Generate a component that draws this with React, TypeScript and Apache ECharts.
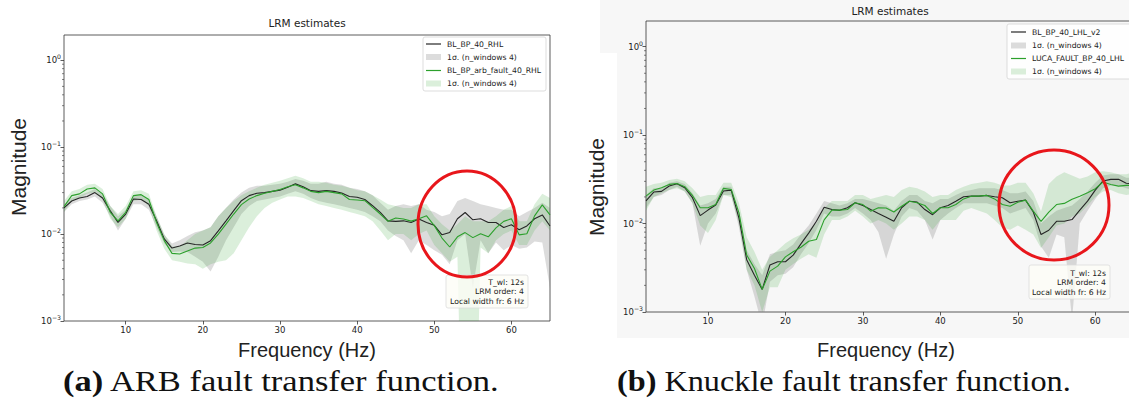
import React, { useEffect, useRef } from 'react';
import * as echarts from 'echarts';

// ---------------- data ----------------
const FREQ = [2,3,4,5,6,7,8,9,10,11,12,13,14,15,16,17,18,19,20,21,22,23,24,25,26,27,28,29,30,31,32,33,34,35,36,37,38,39,40,41,42,43,44,45,46,47,48,49,50,51,52,53,54,55,56,57,58,59,60,61,62,63,64,65];
const X_TICKS = [10, 20, 30, 40, 50, 60];
const Y_MINOR = [0.002,0.003,0.004,0.005,0.006,0.007,0.008,0.009,0.02,0.03,0.04,0.05,0.06,0.07,0.08,0.09,0.2,0.3,0.4,0.5,0.6,0.7,0.8,0.9];

// (a) ARB fault
const A_BASE = [0.020,0.024,0.026,0.027,0.030,0.026,0.0185,0.0136,0.017,0.0253,0.025,0.022,0.0142,0.0088,0.0069,0.0073,0.0079,0.0076,0.0075,0.0084,0.0109,0.0142,0.0186,0.0242,0.0277,0.0295,0.030,0.031,0.032,0.0345,0.0378,0.035,0.0316,0.031,0.0316,0.031,0.0297,0.027,0.0265,0.025,0.0212,0.0178,0.0142,0.0140,0.0142,0.0136,0.0149,0.0136,0.0126,0.0098,0.0104,0.015,0.0177,0.0146,0.015,0.0136,0.0136,0.0119,0.0128,0.0112,0.0124,0.015,0.0166,0.0124];
const A_BASE_LO = [0.018,0.022,0.024,0.025,0.027,0.023,0.016,0.011,0.015,0.022,0.022,0.019,0.012,0.0078,0.0062,0.0063,0.0062,0.0055,0.0048,0.0037,0.0055,0.0085,0.012,0.017,0.021,0.024,0.025,0.026,0.027,0.029,0.031,0.029,0.026,0.024,0.023,0.022,0.021,0.020,0.019,0.018,0.016,0.014,0.011,0.0095,0.0085,0.006,0.0085,0.0075,0.0065,0.0058,0.0045,0.0085,0.010,0.0024,0.0085,0.006,0.0080,0.0065,0.0075,0.0068,0.0070,0.0082,0.0080,0.0024];
const A_BASE_HI = [0.022,0.026,0.028,0.030,0.033,0.029,0.021,0.016,0.019,0.028,0.028,0.025,0.016,0.0098,0.0078,0.0085,0.0095,0.0105,0.011,0.012,0.016,0.020,0.025,0.030,0.034,0.036,0.036,0.037,0.038,0.040,0.043,0.041,0.038,0.038,0.040,0.038,0.037,0.034,0.033,0.031,0.028,0.023,0.019,0.021,0.022,0.021,0.022,0.019,0.018,0.016,0.017,0.024,0.026,0.024,0.022,0.021,0.020,0.019,0.019,0.016,0.018,0.020,0.023,0.020];
const A_FAULT = [0.0207,0.0277,0.029,0.033,0.034,0.029,0.0178,0.0142,0.0178,0.0277,0.0284,0.025,0.0136,0.0084,0.0060,0.0059,0.0064,0.0069,0.0070,0.0079,0.010,0.013,0.017,0.0218,0.0253,0.0277,0.0295,0.031,0.0325,0.035,0.037,0.034,0.031,0.030,0.031,0.030,0.029,0.025,0.0247,0.0242,0.0203,0.017,0.014,0.0153,0.0149,0.0141,0.015,0.0162,0.0125,0.009,0.0071,0.0093,0.0104,0.0091,0.0101,0.0093,0.0118,0.014,0.015,0.0098,0.0101,0.0162,0.0217,0.0166];
const A_FAULT_LO = [0.018,0.024,0.026,0.029,0.030,0.025,0.015,0.012,0.015,0.024,0.025,0.021,0.011,0.0068,0.0050,0.0048,0.0046,0.0045,0.0040,0.0045,0.0048,0.0050,0.0060,0.0085,0.012,0.016,0.020,0.023,0.025,0.027,0.027,0.026,0.024,0.022,0.021,0.020,0.019,0.018,0.017,0.016,0.014,0.011,0.0085,0.010,0.010,0.0085,0.010,0.011,0.0075,0.0060,0.0048,0.0055,0.000001,0.000001,0.0070,0.0060,0.0085,0.010,0.011,0.0075,0.0075,0.011,0.014,0.011];
const A_FAULT_HI = [0.024,0.031,0.033,0.037,0.038,0.033,0.021,0.017,0.021,0.031,0.032,0.029,0.016,0.0100,0.0072,0.0072,0.0085,0.010,0.011,0.012,0.016,0.020,0.024,0.028,0.031,0.034,0.037,0.039,0.041,0.044,0.047,0.044,0.040,0.040,0.039,0.037,0.036,0.034,0.032,0.031,0.028,0.025,0.022,0.021,0.020,0.020,0.022,0.022,0.016,0.013,0.011,0.013,0.016,0.014,0.014,0.014,0.016,0.019,0.021,0.014,0.014,0.022,0.029,0.026];

// (b) Knuckle fault
const B_BASE = [0.018,0.0227,0.0231,0.0266,0.0282,0.0254,0.0196,0.0123,0.0142,0.0162,0.0233,0.0239,0.0115,0.0039,0.0026,0.0018,0.0034,0.0037,0.0037,0.0044,0.0059,0.0078,0.0106,0.0153,0.0144,0.0141,0.0151,0.0172,0.016,0.0144,0.013,0.0118,0.0106,0.0151,0.0179,0.0175,0.0144,0.0126,0.0151,0.016,0.0179,0.0201,0.0204,0.0204,0.0208,0.0201,0.0196,0.0172,0.0179,0.0184,0.0135,0.0075,0.0084,0.0106,0.0106,0.0111,0.0142,0.0179,0.0239,0.0303,0.0316,0.0316,0.0285,0.028];
const B_BASE_LO = [0.015,0.020,0.021,0.024,0.026,0.023,0.017,0.0056,0.010,0.013,0.021,0.021,0.0090,0.0030,0.0015,0.0007,0.0022,0.0026,0.0027,0.0032,0.0045,0.0060,0.0085,0.013,0.012,0.012,0.013,0.015,0.013,0.011,0.008,0.0040,0.0075,0.012,0.015,0.014,0.011,0.0066,0.011,0.013,0.015,0.017,0.017,0.017,0.017,0.016,0.015,0.013,0.014,0.015,0.011,0.0055,0.0041,0.0075,0.0070,0.0008,0.010,0.014,0.019,0.025,0.027,0.027,0.025,0.024];
const B_BASE_HI = [0.021,0.025,0.025,0.029,0.030,0.028,0.022,0.016,0.017,0.019,0.026,0.026,0.014,0.0050,0.0035,0.0026,0.0045,0.0048,0.0050,0.0058,0.0075,0.0095,0.013,0.018,0.017,0.016,0.017,0.019,0.019,0.018,0.017,0.016,0.014,0.018,0.021,0.021,0.018,0.017,0.019,0.019,0.021,0.023,0.024,0.025,0.025,0.025,0.024,0.022,0.022,0.023,0.018,0.010,0.012,0.014,0.015,0.016,0.019,0.023,0.029,0.035,0.036,0.036,0.033,0.033];
const B_FAULT = [0.0204,0.0239,0.0254,0.0277,0.0284,0.0261,0.0208,0.0151,0.0151,0.0164,0.025,0.0243,0.0132,0.0044,0.0031,0.0018,0.0029,0.0033,0.0042,0.0048,0.0054,0.0063,0.0066,0.011,0.0142,0.0142,0.0144,0.0172,0.0164,0.0138,0.0151,0.015,0.0135,0.0157,0.0179,0.0172,0.016,0.013,0.0151,0.0151,0.0164,0.019,0.0204,0.0204,0.0208,0.019,0.0164,0.0157,0.0174,0.0184,0.0138,0.0106,0.0135,0.0164,0.0169,0.0188,0.0204,0.0223,0.0248,0.0295,0.0277,0.0265,0.027,0.027];
const B_FAULT_LO = [0.014,0.020,0.022,0.024,0.025,0.023,0.017,0.0095,0.0078,0.011,0.021,0.020,0.010,0.0030,0.0020,0.0010,0.0019,0.0019,0.0030,0.0035,0.0040,0.0045,0.0041,0.0075,0.011,0.011,0.012,0.014,0.012,0.010,0.011,0.010,0.0085,0.010,0.012,0.012,0.011,0.0085,0.011,0.011,0.011,0.014,0.015,0.014,0.013,0.011,0.0090,0.0085,0.0095,0.0085,0.0075,0.0053,0.0070,0.0095,0.010,0.012,0.013,0.016,0.020,0.023,0.024,0.022,0.021,0.022];
const B_FAULT_HI = [0.026,0.028,0.029,0.031,0.032,0.030,0.025,0.020,0.021,0.021,0.029,0.029,0.017,0.0070,0.0048,0.0030,0.0042,0.0050,0.0060,0.0068,0.0075,0.0085,0.010,0.015,0.018,0.018,0.018,0.021,0.021,0.019,0.020,0.021,0.020,0.024,0.026,0.025,0.023,0.020,0.021,0.021,0.024,0.026,0.028,0.029,0.030,0.029,0.027,0.027,0.029,0.029,0.022,0.0138,0.028,0.034,0.038,0.035,0.032,0.034,0.038,0.039,0.038,0.036,0.036,0.038];

// ---------------- styling ----------------
const SANS = '"DejaVu Sans", sans-serif';
const BIG = '"Liberation Sans", Arial, sans-serif';
const SERIF = '"Liberation Serif", serif';
const BLACK = '#262626';
const GREEN = '#2ca02c';
const GRAY_FILL = 'rgba(128,128,128,0.28)';
const GREEN_FILL = 'rgba(44,160,44,0.17)';
const X_MIN = 2;

const pairs = (ys: number[]) => FREQ.map((f, i) => [f, ys[i]]);
const logLabel = (v: number) => {
  const e = Math.log10(v);
  const r = Math.round(e);
  if (Math.abs(e - r) > 1e-6) return '';
  return '10{s|' + (r < 0 ? '\u2212' + (-r) : String(r)) + '}';
};

function lineSeries(name: string, ys: number[], color: string, gi: number) {
  return {
    type: 'line', name, xAxisIndex: gi, yAxisIndex: gi, data: pairs(ys),
    showSymbol: false, symbol: 'none', clip: true, silent: true,
    lineStyle: { color, width: 1.1 }, itemStyle: { color },
  };
}
function bandSeries(name: string, lo: number[], hi: number[], fill: string, gi: number) {
  return {
    type: 'custom', name, xAxisIndex: gi, yAxisIndex: gi, clip: true, silent: true,
    data: [[FREQ[0], hi[0]]],
    renderItem: (_p: any, api: any) => {
      const pts: number[][] = [];
      for (let i = 0; i < FREQ.length; i++) pts.push(api.coord([FREQ[i], hi[i]]));
      for (let i = FREQ.length - 1; i >= 0; i--) pts.push(api.coord([FREQ[i], lo[i]]));
      return { type: 'polygon', shape: { points: pts }, style: { fill, stroke: 'none' } };
    },
  };
}
function minorTicks(gi: number) {
  return {
    type: 'custom', xAxisIndex: gi, yAxisIndex: gi, clip: false, silent: true,
    data: [[X_MIN, 0.01]],
    renderItem: (_p: any, api: any) => ({
      type: 'group',
      children: Y_MINOR.map((v) => {
        const c = api.coord([X_MIN, v]);
        return { type: 'line', shape: { x1: c[0] - 2, y1: c[1], x2: c[0], y2: c[1] }, style: { stroke: '#333', lineWidth: 0.6 } };
      }),
    }),
  };
}
function xAxis(gi: number) {
  return {
    gridIndex: gi, type: 'value', min: 2, max: 65,
    axisLine: { show: false }, splitLine: { show: false },
    axisTick: { customValues: X_TICKS, length: 3.5, lineStyle: { color: '#333', width: 0.8 } },
    axisLabel: { customValues: X_TICKS, fontSize: 8.5, color: '#222', margin: 4, fontFamily: SANS },
  };
}
function yAxis(gi: number) {
  return {
    gridIndex: gi, type: 'log', logBase: 10, min: 0.001, max: 1.95,
    axisLine: { show: false }, splitLine: { show: false },
    axisTick: { length: 3.5, lineStyle: { color: '#333', width: 0.8 } },
    axisLabel: {
      formatter: logLabel, fontSize: 8.5, color: '#222', margin: 3, fontFamily: SANS, showMaxLabel: false,
      rich: { s: { fontSize: 6.2, fontFamily: SANS, color: '#222', padding: [0, 0, 7, 0] } },
    },
  };
}
const txt = (text: string, x: number, y: number, size: number, family: string, align = 'left', extra: any = {}) => ({
  type: 'text', x, y, z: 100, ...extra,
  style: { text, fontSize: size, fontFamily: family, fill: '#222', align, textAlign: align, verticalAlign: 'middle', textVerticalAlign: 'middle', ...(extra.style || {}) },
});
function legend(x: number, y: number, w: number, h: number, rows: number[], labels: string[], lx: number, tx: number) {
  const els: any[] = [
    { type: 'rect', z: 99, shape: { x, y, width: w, height: h, r: 2 }, style: { fill: 'rgba(255,255,255,0.85)', stroke: '#d4d4d4', lineWidth: 0.8 } },
    { type: 'line', z: 100, shape: { x1: lx, y1: rows[0], x2: lx + 15, y2: rows[0] }, style: { stroke: BLACK, lineWidth: 1.2 } },
    { type: 'rect', z: 100, shape: { x: lx, y: rows[1] - 3, width: 15, height: 6 }, style: { fill: GRAY_FILL } },
    { type: 'line', z: 100, shape: { x1: lx, y1: rows[2], x2: lx + 15, y2: rows[2] }, style: { stroke: GREEN, lineWidth: 1.2 } },
    { type: 'rect', z: 100, shape: { x: lx, y: rows[3] - 3, width: 15, height: 6 }, style: { fill: GREEN_FILL } },
  ];
  labels.forEach((l, i) => els.push(txt(l, tx, rows[i], 7.7, SANS)));
  return els;
}
function infoBox(x: number, y: number, w: number, h: number, rows: number[]) {
  const lines = ['T_wl: 12s', 'LRM order: 4', 'Local width fr: 6 Hz'];
  return [
    { type: 'rect', z: 99, shape: { x, y, width: w, height: h, r: 2 }, style: { fill: 'rgba(252,252,246,0.8)', stroke: '#dcdcdc', lineWidth: 0.8 } },
    ...lines.map((l, i) => txt(l, x + w - 4, rows[i], 7.7, SANS, 'right')),
  ];
}
const caption = (label: string, rest: string, x: number, scaleX: number) => ({
  type: 'text', x, y: 381, z: 100, scaleX,
  style: {
    text: '{b|' + label + '}' + rest, fontSize: 30, fontFamily: SERIF, fill: '#111',
    align: 'left', verticalAlign: 'middle', textVerticalAlign: 'middle',
    rich: { b: { fontSize: 30, fontFamily: SERIF, fontWeight: 'bold', fill: '#111' } },
  },
});

const option: any = {
  animation: false,
  grid: [
    { left: 64, top: 35, width: 486, height: 286, show: true, borderColor: '#333', borderWidth: 0.8, backgroundColor: 'transparent' },
    { left: 646, top: 21, width: 488, height: 291, show: true, borderColor: '#333', borderWidth: 0.8, backgroundColor: 'transparent' },
  ],
  xAxis: [xAxis(0), xAxis(1)],
  yAxis: [yAxis(0), yAxis(1)],
  series: [
    lineSeries('BL_BP_40_RHL', A_BASE, BLACK, 0),
    bandSeries('1σ base (a)', A_BASE_LO, A_BASE_HI, GRAY_FILL, 0),
    lineSeries('BL_BP_arb_fault_40_RHL', A_FAULT, GREEN, 0),
    bandSeries('1σ fault (a)', A_FAULT_LO, A_FAULT_HI, GREEN_FILL, 0),
    minorTicks(0),
    lineSeries('BL_BP_40_LHL_v2', B_BASE, BLACK, 1),
    bandSeries('1σ base (b)', B_BASE_LO, B_BASE_HI, GRAY_FILL, 1),
    lineSeries('LUCA_FAULT_BP_40_LHL', B_FAULT, GREEN, 1),
    bandSeries('1σ fault (b)', B_FAULT_LO, B_FAULT_HI, GREEN_FILL, 1),
    minorTicks(1),
  ],
  graphic: [
    txt('LRM estimates', 307, 23, 10.5, SANS, 'center'),
    txt('LRM estimates', 890, 10.5, 10.5, SANS, 'center'),
    txt('Magnitude', 18, 167, 21, BIG, 'center', { rotation: Math.PI / 2 }),
    txt('Magnitude', 596, 187, 21, BIG, 'center', { rotation: Math.PI / 2 }),
    txt('Frequency (Hz)', 307, 350, 20, BIG, 'center'),
    txt('Frequency (Hz)', 886, 350, 20, BIG, 'center'),
    ...legend(423, 37, 123, 54, [44, 57, 70.5, 83.5], ['BL_BP_40_RHL', '1\u03C3. (n_windows 4)', 'BL_BP_arb_fault_40_RHL', '1\u03C3. (n_windows 4)'], 426, 447),
    ...legend(1007, 24, 126, 55, [32, 45.5, 58.5, 71.5], ['BL_BP_40_LHL_v2', '1\u03C3. (n_windows 4)', 'LUCA_FAULT_BP_40_LHL', '1\u03C3. (n_windows 4)'], 1011, 1032),
    ...infoBox(446, 275, 82, 33, [282, 291.5, 301]),
    ...infoBox(1029, 265, 81, 34, [273, 282.5, 292]),
    { type: 'ellipse', z: 101, shape: { cx: 467, cy: 224, rx: 49, ry: 53 }, style: { fill: 'none', stroke: '#e8161b', lineWidth: 3 } },
    { type: 'ellipse', z: 101, shape: { cx: 1054, cy: 205, rx: 55, ry: 55 }, style: { fill: 'none', stroke: '#e8161b', lineWidth: 3 } },
    caption('(a)', ' ARB fault transfer function.', 63, 1.15),
    caption('(b)', ' Knuckle fault transfer function.', 617, 1.075),
  ],
};

export default function App() {
  const ref = useRef<HTMLDivElement>(null);
  useEffect(() => {
    if (!ref.current) return;
    const chart = echarts.init(ref.current, undefined, { renderer: 'svg' });
    chart.setOption(option);
    return () => chart.dispose();
  }, []);
  return (
    <div style={{ position: 'fixed', left: 0, top: 0, width: 1129, height: 400, overflow: 'hidden', background: '#ffffff' }}>
      <div style={{ position: 'absolute', left: 617, top: 0, width: 512, height: 338, background: '#f7f7f7' }} />
      <div style={{ position: 'absolute', left: 600, top: 0, width: 17, height: 53, background: '#f7f7f7' }} />
      <div ref={ref} style={{ position: 'absolute', left: 0, top: 0, width: 1140, height: 400 }} />
    </div>
  );
}
